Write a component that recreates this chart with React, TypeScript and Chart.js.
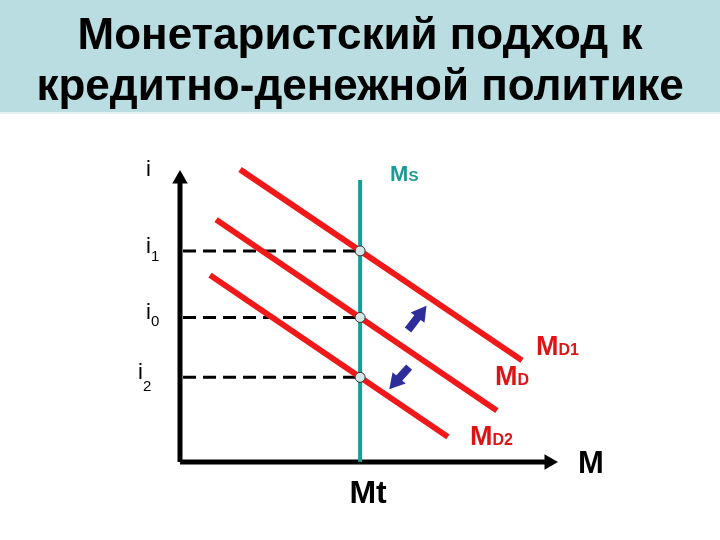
import React, { useEffect, useRef } from "react";
import { Chart, registerables } from "chart.js";

Chart.register(...registerables);

// ---- data (abstract units: M on x 0..100, i on y 0..100) ----
const titleLines = ["Монетаристский подход к", "кредитно-денежной политике"];
const moneySupply = 47.4; // Mt
const msTop = 96.6;
const rateNames = ["1", "0", "2"];
const rateValues = [72.3, 49.5, 29.0]; // i1, i0, i2
const md1 = [{ x: 15.8, y: 100.2 }, { x: 90, y: 34.8 }];
const md = [{ x: 9.5, y: 83.0 }, { x: 83.4, y: 17.6 }];
const md2 = [{ x: 7.9, y: 64.0 }, { x: 70.5, y: 8.6 }];
const shiftUp = [{ x: 60.0, y: 45.2 }, { x: 63.3, y: 50.8 }];
const shiftDown = [{ x: 60.3, y: 32.5 }, { x: 56.8, y: 27.5 }];
const axisY = [{ x: 0, y: 0 }, { x: 0, y: 96.9 }];
const axisX = [{ x: 0, y: 0 }, { x: 97.1, y: 0 }];

const FONT = "'Liberation Sans', Arial, sans-serif";
const RED = "#f01818";
const RED_TEXT = "#dc1414";
const TEAL = "#14a096";
const TEAL_TEXT = "#1a9a94";
const BLUE = "#2e2e9a";

type Part = { t: string; size: number; dy?: number };

function drawRich(ctx: CanvasRenderingContext2D, parts: Part[], x: number, y: number, color: string, weight: string) {
  let cx = x;
  ctx.fillStyle = color;
  ctx.textBaseline = "alphabetic";
  ctx.textAlign = "left";
  for (const p of parts) {
    ctx.font = `${weight} ${p.size}px ${FONT}`;
    ctx.fillText(p.t, cx, y + (p.dy || 0));
    cx += ctx.measureText(p.t).width;
  }
}

const titlePlugin = {
  id: "slideTitle",
  beforeDraw(chart: any) {
    const ctx = chart.ctx as CanvasRenderingContext2D;
    ctx.save();
    ctx.fillStyle = "#ffffff";
    ctx.fillRect(0, 0, chart.width, chart.height);
    ctx.fillStyle = "#b9dde1";
    ctx.fillRect(0, 0, chart.width, 112);
    ctx.fillStyle = "#e4f2f2";
    ctx.fillRect(0, 112, chart.width, 2);
    ctx.fillStyle = "#000000";
    ctx.font = `bold 44px ${FONT}`;
    ctx.textAlign = "center";
    ctx.textBaseline = "alphabetic";
    ctx.fillText(titleLines[0], 360, 49);
    ctx.fillText(titleLines[1], 360, 100);
    ctx.restore();
  },
};

const labelPlugin = {
  id: "diagramLabels",
  afterDraw(chart: any) {
    const ctx = chart.ctx as CanvasRenderingContext2D;
    const ys = chart.scales.y;
    const xs = chart.scales.x;
    ctx.save();
    drawRich(ctx, [{ t: "i", size: 22 }], 146, 176, "#000", "normal");
    const xOff = [146, 146, 138];
    const subDy = [8, 7, 12];
    rateValues.forEach((v, k) => {
      const py = ys.getPixelForValue(v) + 2;
      drawRich(ctx, [{ t: "i", size: 22 }, { t: rateNames[k], size: 15, dy: subDy[k] }], xOff[k], py, "#000", "normal");
    });
    const msX = xs.getPixelForValue(moneySupply);
    drawRich(ctx, [{ t: "M", size: 22 }, { t: "S", size: 15 }], msX + 30, 181, TEAL_TEXT, "bold");
    drawRich(ctx, [{ t: "M", size: 27 }, { t: "D1", size: 16 }], 536, 355, RED_TEXT, "bold");
    drawRich(ctx, [{ t: "M", size: 27 }, { t: "D", size: 16 }], 495, 385, RED_TEXT, "bold");
    drawRich(ctx, [{ t: "M", size: 27 }, { t: "D2", size: 16 }], 470, 445, RED_TEXT, "bold");
    drawRich(ctx, [{ t: "M", size: 31 }], 578, 473, "#000", "bold");
    ctx.font = `bold 32px ${FONT}`;
    ctx.fillStyle = "#000";
    ctx.textAlign = "center";
    ctx.fillText("Mt", msX + 8, 503);
    ctx.restore();
  },
};

function lineDs(data: any[], color: string, width: number, extra: any = {}) {
  return {
    data,
    borderColor: color,
    backgroundColor: color,
    borderWidth: width,
    pointRadius: 0,
    showLine: true,
    clip: false,
    borderCapStyle: "butt",
    ...extra,
  };
}

export default function App() {
  const ref = useRef<HTMLCanvasElement | null>(null);
  useEffect(() => {
    if (!ref.current) return;
    // Chart.js paints index 0 last (on top): list from top to bottom
    const datasets: any[] = [];
    datasets.push({
      data: rateValues.map((v) => ({ x: moneySupply, y: v })),
      showLine: false,
      pointRadius: 5,
      pointBackgroundColor: "#d3e6e8",
      pointBorderColor: "#333",
      pointBorderWidth: 1,
      clip: false,
    });
    datasets.push(
      lineDs(shiftUp, BLUE, 8, { pointRadius: [0, 10], pointStyle: "triangle", pointRotation: 37, pointBorderWidth: 0 })
    );
    datasets.push(
      lineDs(shiftDown, BLUE, 8, { pointRadius: [0, 10], pointStyle: "triangle", pointRotation: 221, pointBorderWidth: 0 })
    );
    datasets.push(lineDs(md1, RED, 6));
    datasets.push(lineDs(md, RED, 6));
    datasets.push(lineDs(md2, RED, 6));
    datasets.push(lineDs([{ x: moneySupply, y: 0 }, { x: moneySupply, y: msTop }], TEAL, 4));
    rateValues.forEach((v) => {
      datasets.push(lineDs([{ x: 0.8, y: v }, { x: moneySupply, y: v }], "#000", 3, { borderDash: [13, 7] }));
    });
    datasets.push(
      lineDs(axisY, "#000", 5, { pointRadius: [0, 9], pointStyle: "triangle", pointRotation: 0, pointBorderWidth: 0 })
    );
    datasets.push(
      lineDs(axisX, "#000", 5, { pointRadius: [0, 9], pointStyle: "triangle", pointRotation: 90, pointBorderWidth: 0 })
    );

    const chart = new Chart(ref.current, {
      type: "scatter",
      data: { datasets },
      options: {
        animation: false,
        responsive: false,
        events: [],
        layout: { padding: { left: 180, right: 160, top: 170, bottom: 78 } },
        scales: {
          x: { type: "linear", min: 0, max: 100, display: false },
          y: { type: "linear", min: 0, max: 100, display: false },
        },
        plugins: { legend: { display: false }, tooltip: { enabled: false }, title: { display: false } },
      } as any,
      plugins: [titlePlugin, labelPlugin],
    });
    return () => chart.destroy();
  }, []);
  return (
    <div style={{ position: "absolute", left: 0, top: 0, width: 720, height: 540 }}>
      <canvas ref={ref} width={720} height={540} />
    </div>
  );
}
